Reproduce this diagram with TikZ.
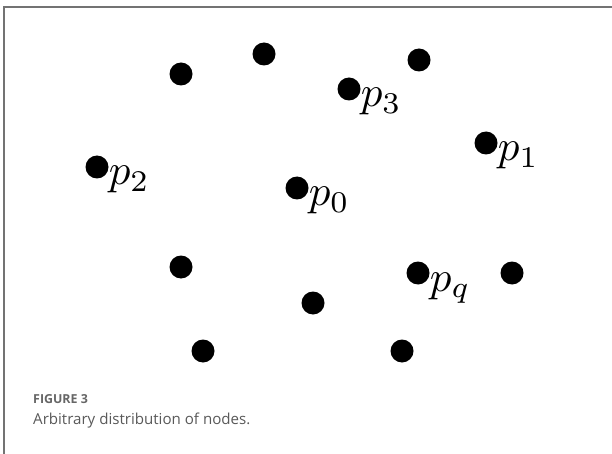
\documentclass[tikz,border=0pt]{standalone}
\usepackage{fontspec}
\newfontfamily\capfont{Open Sans}
\begin{document}
\begin{tikzpicture}[x=1pt,y=-1pt,
  dot/.style={circle,fill=black,inner sep=0pt,minimum size=23pt},
  plabel/.style={anchor=base west,inner sep=0pt,scale=4.3},
  frameline/.style={draw=black!55,line width=1.4pt}]
\useasboundingbox (0,0) rectangle (612,454);
\fill[white] (0,0) rectangle (612,454);
\coordinate (fa) at (4,454);
\coordinate (fb) at (4,7);
\coordinate (fc) at (612,7);
\draw[frameline] (fa) -- (fb) -- (fc);
% dots
\node[dot] (d1) at (181,74) {};
\node[dot] (d2) at (264,54) {};
\node[dot] (d3) at (419,60) {};
\node[dot] (d4) at (349,89) {};
\node[dot] (d5) at (486,143) {};
\node[dot] (d6) at (97,167) {};
\node[dot] (d7) at (297,188) {};
\node[dot] (d8) at (181,267) {};
\node[dot] (d9) at (418,273) {};
\node[dot] (d10) at (512,273) {};
\node[dot] (d11) at (313,303) {};
\node[dot] (d12) at (203,351) {};
\node[dot] (d13) at (402,351) {};
% labels
\node[plabel] (l3) at (360,107) {$p_3$};
\node[plabel] (l1) at (497,161) {$p_1$};
\node[plabel] (l2) at (108,185) {$p_2$};
\node[plabel] (l0) at (308,206) {$p_0$};
\node[plabel] (lq) at (429,291) {$p_q$};
% caption
\node[anchor=base west,inner sep=0pt,text=black!60,font=\capfont\bfseries\fontsize{12.4}{14}\selectfont] (fig) at (33,403) {FIGURE 3};
\node[anchor=base west,inner sep=0pt,text=black!65,font=\capfont\fontsize{15.1}{18}\selectfont] (cap) at (33,424) {Arbitrary distribution of nodes.};
\end{tikzpicture}
\end{document}
